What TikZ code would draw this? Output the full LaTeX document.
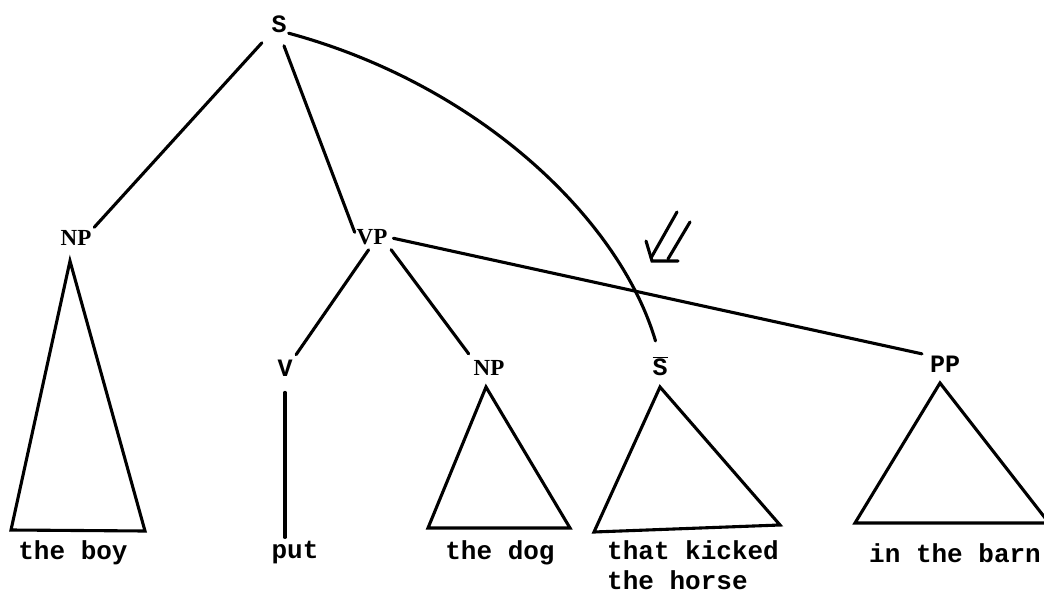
\documentclass[tikz,border=0pt]{standalone}
\usepackage{fontspec}
\setmainfont{Liberation Mono}
\newfontfamily\labserif{Liberation Serif}
\begin{document}
\begin{tikzpicture}[x=1pt,y=-1pt,
  lab/.style={inner sep=0pt, font=\fontsize{25}{29}\selectfont\bfseries},
  slab/.style={inner sep=0pt, font=\fontsize{23}{27}\selectfont\labserif\bfseries},
  word/.style={inner sep=0pt, font=\fontsize{26}{30}\selectfont\bfseries, align=left},
  edge/.style={line width=3.1pt, line cap=round},
  tri/.style={line width=3.1pt, line join=miter}]
\useasboundingbox (0,0) rectangle (1044,594);
% labels
\node[lab] (S) at (279,24) {S};
\node[slab] (NPa) at (76,238) {NP};
\node[slab] (VP) at (372,237) {VP};
\node[lab] (V) at (285,368) {V};
\node[slab] (NPb) at (489,368) {NP};
\node[lab] (Sb) at (660,366) {$\overline{\hbox{S}}$};
\node[lab] (PP) at (945,364) {PP};
% words
\node[word] (w1) at (73,553) {the boy};
\node[word] (w2) at (295,553) {put};
\node[word] (w3) at (500,553) {the dog};
\node[word, anchor=north west] (w4) at (607,540) {that kicked\\the horse};
\node[word, anchor=west] (w5) at (869,553) {in the barn};
% connectors
\draw[edge, shorten <=14pt, shorten >=4pt] (S) -- (NPa.north east);
\draw[edge, shorten <=14pt, shorten >=5pt] (S.south) -- (VP.west);
\draw[edge, shorten <=2pt, shorten >=16pt] (S.south east) .. controls (480,85) and (620,220) .. (Sb.north);
\draw[edge, shorten <=6pt, shorten >=8pt] (VP.east) -- (PP.north west);
\draw[edge, shorten <=6pt, shorten >=6pt] (VP.south) -- (V.north east);
\draw[edge, shorten <=6pt, shorten >=8pt] (VP.south east) -- (NPb.north west);
\draw[edge, shorten <=16pt, shorten >=4pt] (V.south) -- (w2.north -| V.south);
% triangles
\coordinate (t1) at (70,261);
\draw[tri] (t1) -- (145,531) -- (11,530) -- cycle;
\coordinate (t2) at (486,387);
\draw[tri] (t2) -- (570,528) -- (428,528) -- cycle;
\coordinate (t3) at (660,387);
\draw[tri] (t3) -- (780,525) -- (594,532) -- cycle;
\coordinate (t4) at (940,383);
\draw[tri] (t4) -- (1049,523) -- (855,523) -- cycle;
% double arrow
\coordinate (a1) at (677,212);
\coordinate (a2) at (651,258);
\coordinate (b1) at (690,222);
\coordinate (b2) at (668,259);
\coordinate (h1) at (646,241);
\coordinate (h2) at (652,261);
\coordinate (h3) at (678,261);
\draw[edge] (a1) -- (a2);
\draw[edge] (b1) -- (b2);
\draw[edge, line join=miter] (h1) -- (h2) -- (h3);
\end{tikzpicture}
\end{document}
